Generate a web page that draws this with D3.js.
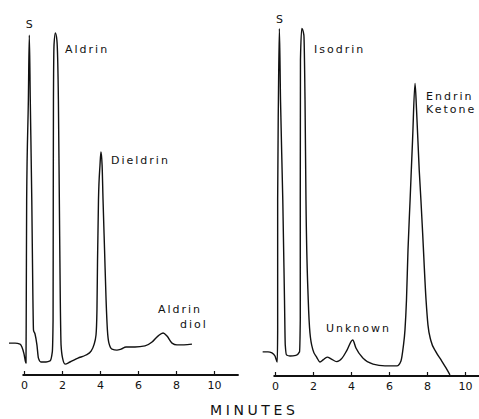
<!DOCTYPE html>
<html>
<head>
<meta charset="utf-8">
<script src="https://cdnjs.cloudflare.com/ajax/libs/d3/7.8.5/d3.min.js"></script>
<style>
  body { margin: 0; background: #fff; }
  svg { display: block; font-family: "DejaVu Sans", sans-serif; }
</style>
</head>
<body>
<svg id="chart"></svg>
<script>
// retention time (minutes) and detector response (arbitrary units, 0 = axis)
const leftTime = [-0.79, -0.47, -0.21, -0.11, 0, 0.07, 0.105, 0.12, 0.14, 0.23, 0.28, 0.33, 0.41, 0.47, 0.5, 0.58, 0.68, 0.76, 0.89, 1.16, 1.37, 1.49, 1.53, 1.54, 1.55, 1.58, 1.65, 1.73, 1.81, 1.86, 1.91, 1.95, 2.03, 2.16, 2.42, 2.84, 3.26, 3.53, 3.68, 3.79, 3.84, 3.87, 3.92, 4.0, 4.05, 4.11, 4.16, 4.24, 4.32, 4.39, 4.47, 4.63, 4.89, 5.11, 5.37, 5.84, 6.37, 6.74, 7.05, 7.32, 7.53, 7.79, 8.05, 8.42, 8.84];
const leftResp = [9.4, 9.4, 9.1, 8.3, 6.3, 4.3, 3.7, 21.7, 50.3, 78.9, 97.4, 78.9, 50.3, 21.7, 13.1, 12.0, 8.9, 5.1, 4.0, 4.0, 4.3, 6.9, 16, 50.3, 78.9, 94.6, 98, 96, 78.9, 50.3, 21.7, 8.9, 5.1, 3.4, 4.0, 5.1, 6.0, 7.1, 8.9, 11.7, 18.9, 33.1, 50.3, 60.3, 64, 60.3, 50.3, 36, 21.7, 13.1, 9.4, 7.7, 7.4, 7.7, 8.3, 8.3, 8.6, 9.7, 11.4, 12.3, 11.4, 9.4, 8.9, 8.9, 9.1];

const rightTime = [-0.65, -0.37, -0.16, 0, 0.12, 0.14, 0.14, 0.18, 0.23, 0.29, 0.41, 0.5, 0.54, 0.61, 0.79, 1.1, 1.29, 1.33, 1.33, 1.34, 1.41, 1.52, 1.58, 1.63, 1.75, 1.84, 2.0, 2.19, 2.37, 2.53, 2.75, 2.95, 3.25, 3.53, 3.79, 4.09, 4.26, 4.63, 5.16, 5.79, 6.42, 6.63, 6.75, 6.84, 6.92, 7.0, 7.11, 7.24, 7.37, 7.45, 7.59, 7.68, 7.77, 7.95, 8.05, 8.21, 8.47, 8.74, 9.0, 9.21];
const rightResp = [6.9, 6.9, 6.6, 5.7, 4.0, 13.1, 50.3, 78.9, 99.3, 78.9, 50.3, 21.7, 8.9, 6.0, 5.7, 5.9, 6.9, 16, 50.3, 90.3, 99.3, 97.4, 78.9, 50.3, 21.7, 12.3, 7.4, 5.4, 4.0, 4.6, 5.4, 4.9, 4.1, 5.1, 7.4, 10.3, 8.0, 5.1, 3.4, 2.9, 2.9, 4.3, 8.3, 13.1, 21.7, 36, 50.3, 67.4, 83.6, 76, 58.9, 50.3, 40.9, 21.7, 14.6, 10, 6.9, 4.6, 2.3, 0.3];

const tickValues = [0, 2, 4, 6, 8, 10];

// peak labels: text, time, response, anchor
const leftLabels = [
  ["S", 0.28, 99.4, "middle"],
  ["Aldrin", 2.16, 92.3, "start"],
  ["Dieldrin", 4.58, 60.6, "start"],
  ["Aldrin", 7.05, 18.0, "start"],
  ["diol", 8.21, 13.7, "start"]
];
const rightLabels = [
  ["S", 0.23, 100.9, "middle"],
  ["Isodrin", 2.05, 92.3, "start"],
  ["Endrin", 7.95, 78.9, "start"],
  ["Ketone", 7.95, 75.1, "start"],
  ["Unknown", 2.68, 12.7, "start"]
];

const width = 479;
const height = 419;

const svg = d3.select("#chart").attr("width", width).attr("height", height);

const y = d3.scaleLinear().domain([0, 100]).range([376, 26]);

const panels = [
  { time: leftTime, resp: leftResp, labels: leftLabels, x0: 24, axisEnd: 11.3, axisY: 375 },
  { time: rightTime, resp: rightResp, labels: rightLabels, x0: 275, axisEnd: 10.8, axisY: 376 }
];

const line = d3.line().curve(d3.curveMonotoneX);

panels.forEach(function (p) {
  const x = d3.scaleLinear().domain([0, 10]).range([p.x0, p.x0 + 190]);
  const g = svg.append("g");

  // axis
  const axis = d3.axisBottom(x)
    .tickValues(tickValues)
    .tickSizeInner(-4)
    .tickSizeOuter(0)
    .tickPadding(6);

  const ax = g.append("g")
    .attr("transform", "translate(0," + p.axisY + ")")
    .call(axis);
  ax.select(".domain").remove();
  ax.selectAll(".tick line").attr("stroke", "#111").attr("stroke-width", 1.2);
  ax.selectAll(".tick text")
    .attr("fill", "#111")
    .style("font-size", "11px")
    .style("font-family", "'DejaVu Sans', sans-serif");

  g.append("line")
    .attr("x1", x(-0.08))
    .attr("x2", x(p.axisEnd))
    .attr("y1", p.axisY)
    .attr("y2", p.axisY)
    .attr("stroke", "#111")
    .attr("stroke-width", 2);

  // trace
  const pts = p.time.map(function (t, i) { return [x(t), y(p.resp[i])]; });
  g.append("path")
    .attr("d", line(pts))
    .attr("fill", "none")
    .attr("stroke", "#111")
    .attr("stroke-width", 1.4)
    .attr("stroke-linejoin", "round");

  // labels
  g.selectAll("text.lbl")
    .data(p.labels)
    .enter()
    .append("text")
    .attr("class", "lbl")
    .attr("x", function (d) { return x(d[1]); })
    .attr("y", function (d) { return y(d[2]); })
    .attr("text-anchor", function (d) { return d[3]; })
    .attr("fill", "#111")
    .style("font-size", "11px")
    .style("letter-spacing", function (d) { return d[0] === "S" ? "0px" : "2px"; })
    .text(function (d) { return d[0]; });
});

svg.append("text")
  .attr("x", 210)
  .attr("y", 415)
  .attr("fill", "#111")
  .style("font-size", "14px")
  .style("letter-spacing", "3.6px")
  .text("MINUTES");
</script>
</body>
</html>
